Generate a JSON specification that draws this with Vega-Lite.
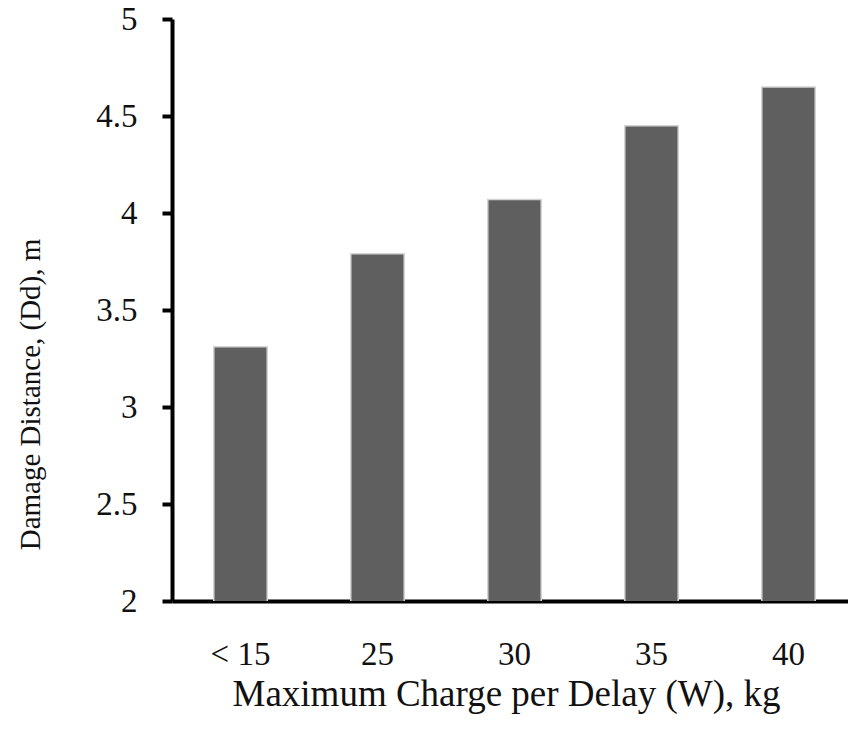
{
  "$schema": "https://vega.github.io/schema/vega-lite/v6.json",
  "autosize": {"type": "none"},
  "padding": {"left": 172, "top": 19, "right": 0, "bottom": 146},
  "width": 685,
  "height": 582,
  "background": "white",
  "config": {
    "view": {"stroke": null},
    "font": "Liberation Serif"
  },
  "data": {
    "values": [
      {"charge": "< 15", "distance": 3.31},
      {"charge": "25", "distance": 3.79},
      {"charge": "30", "distance": 4.07},
      {"charge": "35", "distance": 4.45},
      {"charge": "40", "distance": 4.65}
    ]
  },
  "mark": {"type": "bar", "color": "#5f5f5f", "stroke": "#d4d4d4", "strokeWidth": 1.5, "clip": true},
  "encoding": {
    "x": {
      "field": "charge",
      "type": "nominal",
      "sort": null,
      "scale": {"paddingInner": 0.61, "paddingOuter": 0.305},
      "axis": {
        "title": "Maximum Charge per Delay (W), kg",
        "labelAngle": 0,
        "labelFont": "Liberation Serif",
        "labelFontSize": 33,
        "labelColor": "#111111",
        "labelPadding": 37,
        "ticks": false,
        "domainColor": "black",
        "domainWidth": 4,
        "grid": false,
        "titleFont": "Liberation Serif",
        "titleFontSize": 37,
        "titleFontWeight": "normal",
        "titleColor": "#111111",
        "titleX": 334,
        "titleY": 93,
        "titleBaseline": "middle",
        "titleAlign": "center"
      }
    },
    "y": {
      "field": "distance",
      "type": "quantitative",
      "scale": {"domain": [2, 5], "nice": false, "zero": false},
      "axis": {
        "values": [2, 2.5, 3, 3.5, 4, 4.5, 5],
        "format": "~g",
        "title": "Damage Distance, (Dd), m",
        "labelFont": "Liberation Serif",
        "labelFontSize": 33,
        "labelColor": "#111111",
        "labelPadding": 25,
        "tickSize": 10,
        "tickWidth": 4,
        "tickColor": "black",
        "domainColor": "black",
        "domainWidth": 4,
        "grid": false,
        "titleFont": "Liberation Serif",
        "titleFontSize": 29,
        "titleFontWeight": "normal",
        "titleColor": "#111111",
        "titleAngle": -90,
        "titleX": -142,
        "titleY": 375,
        "titleAlign": "center",
        "titleBaseline": "middle"
      }
    }
  }
}
